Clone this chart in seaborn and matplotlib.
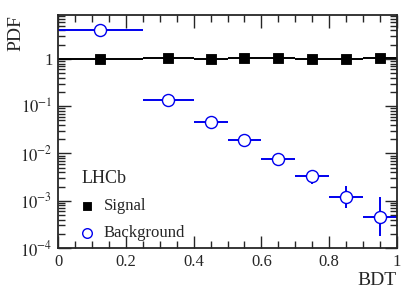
import numpy as np
import pandas as pd
import matplotlib
matplotlib.use("Agg")
import matplotlib.pyplot as plt
import seaborn as sns
from matplotlib.ticker import MultipleLocator, LogLocator, FixedLocator, NullFormatter

# bin centres and half widths
bin_center = [0.125, 0.325, 0.45, 0.55, 0.65, 0.75, 0.85, 0.95]
bin_halfwidth = [0.125, 0.075, 0.05, 0.05, 0.05, 0.05, 0.05, 0.05]

signal_pdf = [1.0, 1.03, 0.98, 1.05, 1.04, 0.98, 1.0, 1.05]
signal_err = [0.03, 0.03, 0.03, 0.03, 0.03, 0.03, 0.03, 0.03]

background_pdf = [4.1, 0.134, 0.046, 0.019, 0.0078, 0.0034, 0.0012, 0.00046]
background_err_low = [0.05, 0.004, 0.002, 0.0012, 0.0008, 0.0011, 0.0005, 0.00028]
background_err_high = [0.05, 0.004, 0.002, 0.0012, 0.0012, 0.0009, 0.0009, 0.00073]

x_ticks = [0, 0.2, 0.4, 0.6, 0.8, 1.0]
x_ticklabels = ["0", "0.2", "0.4", "0.6", "0.8", "1"]
y_ticks = [1e-4, 1e-3, 1e-2, 1e-1, 1]
y_ticklabels = [r"$10^{-4}$", r"$10^{-3}$", r"$10^{-2}$", r"$10^{-1}$", "1"]

sig = pd.DataFrame({"BDT": bin_center, "PDF": signal_pdf})
bkg = pd.DataFrame({"BDT": bin_center, "PDF": background_pdf})

sns.set_style("ticks")
plt.rcParams["font.family"] = ["Liberation Serif", "DejaVu Serif"]
plt.rcParams["mathtext.fontset"] = "stix"

fig = plt.figure(figsize=(4.15, 2.96), dpi=100)
ax = fig.add_axes([58 / 415, 48 / 296, 339 / 415, 233 / 296])

blue = "#0000ee"
ax.errorbar(bin_center, signal_pdf, xerr=bin_halfwidth, yerr=signal_err,
            fmt="none", ecolor="black", elinewidth=1.4, capsize=0, zorder=2)
ax.errorbar(bin_center, background_pdf, xerr=bin_halfwidth,
            yerr=[background_err_low, background_err_high],
            fmt="none", ecolor=blue, elinewidth=1.4, capsize=0, zorder=2)
sns.scatterplot(data=sig, x="BDT", y="PDF", marker="s", s=60, color="black",
                edgecolor="black", ax=ax, zorder=3, label="Signal")
sns.scatterplot(data=bkg, x="BDT", y="PDF", marker="o", s=75, color="white",
                edgecolor=blue, linewidth=1.0, ax=ax, zorder=3, label="Background")

ax.set_yscale("log")
ax.set_xlim(0, 1)
ax.set_ylim(1e-4, 8.5)

ax.set_xticks(x_ticks)
ax.set_xticklabels(x_ticklabels, fontsize=12)
ax.xaxis.set_minor_locator(MultipleLocator(0.05))

ax.yaxis.set_minor_locator(LogLocator(base=10, subs=np.arange(2, 10), numticks=20))
ax.yaxis.set_minor_formatter(NullFormatter())
ax.set_yticks(y_ticks)
ax.set_yticklabels(y_ticklabels, fontsize=12)

ax.tick_params(which="both", direction="in", top=True, right=True, width=1.0)
ax.tick_params(which="major", length=9, pad=4)
ax.tick_params(which="minor", length=5)
for sp in ax.spines.values():
    sp.set_linewidth(1.3)

ax.set_xlabel("BDT", fontsize=14)
ax.xaxis.set_label_coords(1.0, -0.14)
ax.xaxis.label.set_ha("right")
ax.xaxis.label.set_va("center")
ax.set_ylabel("PDF", fontsize=14)
ax.yaxis.set_label_coords(-0.125, 1.0)
ax.yaxis.label.set_ha("right")
ax.yaxis.label.set_va("center")

ax.text(0.068, 0.30, "LHCb", transform=ax.transAxes, fontsize=13,
        ha="left", va="center")
ax.legend(loc="lower left", bbox_to_anchor=(0.041, 0.0), frameon=False,
          fontsize=12, handletextpad=0.5, borderaxespad=0.0,
          labelspacing=0.65, handlelength=1.0, markerscale=0.8)

fig.savefig("out.png", dpi=100)
